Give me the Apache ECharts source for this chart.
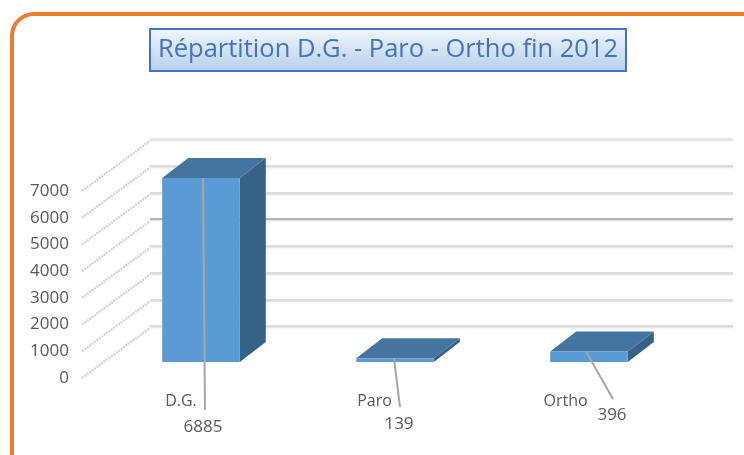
<!DOCTYPE html>
<html>
<head>
<meta charset="utf-8">
<style>
  html, body { margin: 0; padding: 0; background: #fff; }
  #main { width: 744px; height: 455px; }
</style>
<script src="https://cdn.jsdelivr.net/npm/echarts@6/dist/echarts.min.js"></script>
</head>
<body>
<div id="main"></div>
<script>
var categories = ["D.G.", "Paro", "Ortho"];
var values = [6885, 139, 396];
var yTicks = [0, 1000, 2000, 3000, 4000, 5000, 6000, 7000];
var titleText = "Répartition D.G. - Paro - Ortho fin 2012";

// depth of the bars and of the side wall, in px
var barDepth = [26, -20];
var wallDepth = [68, -50];
// leader line offsets, px from the bar's base centre
var leaderStartDx = [2, -1, -3];
var leaderEnd = [[4, 48], [5, 45], [24, 37]];
var labelPos = [[2, 65], [4, 62], [23, 53]];
// category labels sit left of the bar centre
var catPad = [40, 41, 47];

var textColor = "#595959";
var font = "Open Sans";

var chart = echarts.init(document.getElementById("main"));

function renderBar(params, api) {
    var i = api.value(0);
    var base = api.coord([i, 0]);
    var top = api.coord([i, api.value(1)]);
    var w = api.size([1, 0])[0] * 0.4;
    var l = base[0] - w / 2, r = base[0] + w / 2;
    var dx = barDepth[0], dy = barDepth[1];
    return {
        type: "group",
        children: [
            { type: "polygon", shape: { points: [[r, base[1]], [r + dx, base[1] + dy], [r + dx, top[1] + dy], [r, top[1]]] }, style: { fill: "#376287" } },
            { type: "polygon", shape: { points: [[l, top[1]], [l + dx, top[1] + dy], [r + dx, top[1] + dy], [r, top[1]]] }, style: { fill: "#4475a0" } },
            { type: "rect", shape: { x: l, y: top[1], width: w, height: base[1] - top[1] }, style: { fill: "#5b9bd5" } },
            { type: "line", shape: { x1: base[0] + leaderStartDx[i], y1: top[1], x2: base[0] + leaderEnd[i][0], y2: base[1] + leaderEnd[i][1] }, style: { stroke: "#a6a6a6", lineWidth: 2 } },
            { type: "text", x: base[0] + labelPos[i][0], y: base[1] + labelPos[i][1], style: { text: String(api.value(1)), fill: textColor, font: "17px " + font, align: "center", verticalAlign: "middle" } }
        ]
    };
}

function renderWall(params, api) {
    var p = api.coord([0, api.value(0)]);
    var x0 = params.coordSys.x;
    return {
        type: "line",
        shape: { x1: x0, y1: p[1], x2: x0 + wallDepth[0], y2: p[1] + wallDepth[1] },
        style: { stroke: "#d4d4d4", lineWidth: 2.5, lineDash: [2, 1] }
    };
}

var catRich = {};
categories.forEach(function (c, i) {
    catRich["c" + i] = { padding: [0, catPad[i], 0, 0], color: textColor, fontFamily: font, fontSize: 16 };
});

var option = {
    backgroundColor: "#fff",
    animation: false,
    title: {
        text: titleText,
        left: 150,
        top: 29,
        padding: [8, 8, 8, 8],
        borderWidth: 2,
        borderColor: "#4472c4",
        backgroundColor: new echarts.graphic.LinearGradient(0, 0, 0, 1, [
            { offset: 0, color: "#f2f6fc" },
            { offset: 1, color: "#b4d0ec" }
        ]),
        textStyle: { fontFamily: font, fontSize: 25.5, fontWeight: "normal", color: "#4472c4" }
    },
    graphic: [{
        type: "rect",
        shape: { x: 12, y: 14, width: 800, height: 520, r: 22 },
        style: { fill: "none", stroke: "#ed7d31", lineWidth: 4 },
        silent: true
    }],
    grid: [
        { left: 150, right: 11, top: 139, height: 187 },
        { left: 82, width: 68, top: 191, height: 187 },
        { left: 104, width: 582, top: 175, height: 187 }
    ],
    xAxis: [
        { gridIndex: 0, type: "category", data: categories, axisLine: { show: false }, axisTick: { show: false }, axisLabel: { show: false } },
        { gridIndex: 1, type: "category", data: categories, axisLine: { show: false }, axisTick: { show: false }, axisLabel: { show: false } },
        {
            gridIndex: 2,
            type: "category",
            data: categories,
            axisLine: { show: false },
            axisTick: { show: false },
            axisLabel: {
                margin: 31,
                rich: catRich,
                formatter: function (v, i) { return "{c" + i + "|" + v + "}"; }
            }
        }
    ],
    yAxis: [
        {
            gridIndex: 0, type: "value", min: 0, max: 7000, interval: 1000,
            axisLine: { show: false }, axisTick: { show: false }, axisLabel: { show: false },
            splitLine: { lineStyle: { width: 2, shadowColor: "rgba(0,0,0,0.15)", shadowBlur: 2, shadowOffsetY: 1, color: ["#dcdcdc", "#dcdcdc", "#dcdcdc", "#dcdcdc", "#b4b4b4", "#dcdcdc", "#dcdcdc", "#e6e6e6"] } }
        },
        {
            gridIndex: 1, type: "value", min: 0, max: 7000, interval: 1000,
            axisLine: { show: false }, axisTick: { show: false }, splitLine: { show: false },
            axisLabel: { margin: 13, color: textColor, fontFamily: font, fontSize: 17, formatter: function (v) { return String(v); } }
        },
        {
            gridIndex: 2, type: "value", min: 0, max: 7000, interval: 1000,
            axisLine: { show: false }, axisTick: { show: false }, axisLabel: { show: false }, splitLine: { show: false }
        }
    ],
    series: [
        {
            type: "custom",
            xAxisIndex: 1,
            yAxisIndex: 1,
            renderItem: renderWall,
            encode: { y: 0 },
            data: yTicks.map(function (v) { return [v]; }),
            silent: true
        },
        {
            type: "custom",
            xAxisIndex: 2,
            yAxisIndex: 2,
            renderItem: renderBar,
            encode: { x: 0, y: 1 },
            data: values.map(function (v, i) { return [i, v]; }),
            z: 5
        }
    ]
};
chart.setOption(option);
</script>
</body>
</html>
